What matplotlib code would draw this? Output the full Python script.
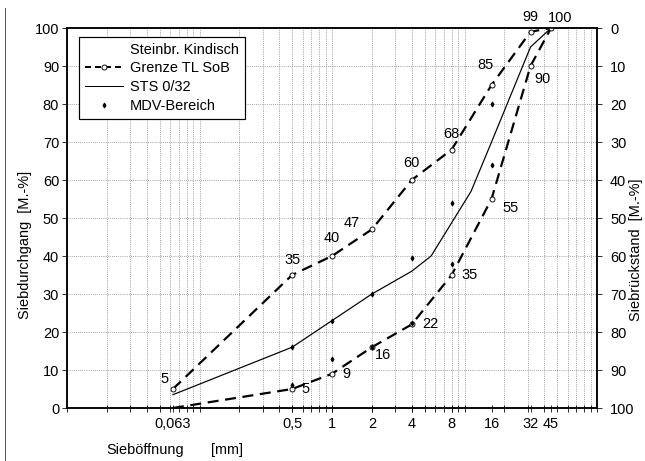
import numpy as np
import matplotlib.pyplot as plt
from matplotlib.lines import Line2D
from matplotlib.ticker import FixedLocator, LogLocator, NullFormatter

plt.rcParams['font.family'] = ['Liberation Sans', 'DejaVu Sans']
plt.rcParams['font.size'] = 14.5

# sieve sizes [mm] and passing [M.-%]
sieve = [0.063, 0.5, 1, 2, 4, 8, 16, 31.5, 45]
grenze_upper = [5, 35, 40, 47, 60, 68, 85, 99, 100]
grenze_lower = [0, 5, 9, 16, 22, 35, 55, 90, 100]

sts_sieve = [0.063, 0.5, 1, 2, 4, 5.6, 11.2, 16, 31.5, 45]
sts_pass = [3.5, 16, 23, 30, 36, 40, 57, 70, 95, 100]

mdv_sieve = [0.5, 0.5, 1, 1, 2, 2, 4, 4, 8, 8, 16, 16]
mdv_pass = [6, 16, 13, 23, 16, 30, 22.5, 39.5, 38, 54, 64, 80]

tick_pos = [0.063, 0.5, 1, 2, 4, 8, 16, 31.5, 45]
tick_lab = ['0,063', '0,5', '1', '2', '4', '8', '16', '32', '45']

# label offsets (px) for the limit values
upper_off = [(-8, 10), (0, 15), (0, 18), (-20, 6), (0, 17), (0, 16), (-6, 20), (0, 15), (9, 10)]
lower_off = [None, (13, 0), (14, 0), (11, -8), (19, 0), (18, 0), (19, -9), (12, -13), None]

fig = plt.figure(figsize=(645 / 72, 461 / 72), dpi=72)
ax = fig.add_axes([67 / 645, 53 / 461, 530 / 645, 380 / 461])

ax.set_xscale('log')
ax.set_xlim(0.01, 100)
ax.set_ylim(0, 100)

dash = (0, (5, 3))
ax.plot(sieve, grenze_upper, color='black', lw=2.2, linestyle=dash, zorder=3)
ax.plot(sieve, grenze_lower, color='black', lw=2.2, linestyle=dash, zorder=3)
ax.plot(sieve[:-1], grenze_upper[:-1], 'o', ms=5, mfc='white', mec='black', mew=0.9, zorder=4)
ax.plot(sieve[1:-1], grenze_lower[1:-1], 'o', ms=5, mfc='white', mec='black', mew=0.9, zorder=4)
ax.plot(sts_sieve, sts_pass, color='black', lw=1.2, zorder=3)
ax.plot(sieve[-1], grenze_upper[-1], 'o', ms=5, mfc='white', mec='black', mew=0.9, zorder=5)
ax.plot(mdv_sieve, mdv_pass, 'd', ms=3.5, color='black', zorder=4)

for x, y, off in zip(sieve, grenze_upper, upper_off):
    ax.annotate(str(y), (x, y), xytext=off, textcoords='offset points',
                ha='center', va='center', zorder=6)
for x, y, off in zip(sieve, grenze_lower, lower_off):
    if off is None:
        continue
    ax.annotate(str(y), (x, y), xytext=off, textcoords='offset points',
                ha='center', va='center', zorder=6)

# axes, ticks and grid
ax.xaxis.set_major_locator(FixedLocator(tick_pos))
ax.set_xticklabels(tick_lab)
ax.xaxis.set_minor_locator(LogLocator(base=10, subs=np.arange(1, 10), numticks=20))
ax.xaxis.set_minor_formatter(NullFormatter())
ax.xaxis.remove_overlapping_locs = False
ax.set_yticks(np.arange(0, 101, 10))

ax.tick_params(axis='x', which='both', direction='inout', length=7, width=0.8, pad=6)
ax.tick_params(axis='y', direction='out', length=5, width=0.8, pad=3)

ax.grid(False, which='major', axis='x')
ax.grid(True, which='minor', axis='x', color='#777777', linestyle=':', lw=0.8)
ax.grid(True, which='major', axis='y', color='#777777', linestyle=':', lw=0.8)
ax.set_axisbelow(True)

for s in ax.spines.values():
    s.set_linewidth(1.5)
    s.set_color('black')

ax2 = ax.twinx()
ax2.set_ylim(100, 0)
ax2.set_yticks(np.arange(0, 101, 10))
ax2.tick_params(axis='y', direction='out', length=5, width=0.8, pad=8)
for s in ax2.spines.values():
    s.set_linewidth(1.5)

# legend
handles = [
    Line2D([], [], linestyle='none'),
    Line2D([], [], color='black', lw=2, linestyle=(0, (3, 2)), marker='o', ms=5,
           mfc='white', mec='black', mew=0.9),
    Line2D([], [], color='black', lw=1),
    Line2D([], [], linestyle='none', marker='d', ms=3.5, color='black'),
]
labels = ['Steinbr. Kindisch', 'Grenze TL SoB', 'STS 0/32', 'MDV-Bereich']
leg = ax.legend(handles, labels, loc='upper left', bbox_to_anchor=(12 / 530, 371 / 380),
                borderaxespad=0, frameon=True, fancybox=False,
                edgecolor='black', framealpha=1, labelspacing=0.32,
                handlelength=2.6, handletextpad=0.5, borderpad=0.4)
leg.get_frame().set_linewidth(1.2)
leg.set_zorder(10)

# axis titles
fig.text(25 / 645, 1 - 245 / 461, 'Siebdurchgang  [M.-%]', rotation=90,
         ha='center', va='center')
fig.text(636 / 645, 1 - 250 / 461, 'Siebrückstand  [M.-%]', rotation=90,
         ha='center', va='center')
fig.text(145 / 645, 1 - 450 / 461, 'Sieböffnung', ha='center', va='center')
fig.text(227 / 645, 1 - 450 / 461, '[mm]', ha='center', va='center')

# scan frame on the left
fig.add_artist(Line2D([5 / 645, 5 / 645], [0, 1 - 8 / 461], color='#555555', lw=1))

fig.savefig('out.png', dpi=72)
